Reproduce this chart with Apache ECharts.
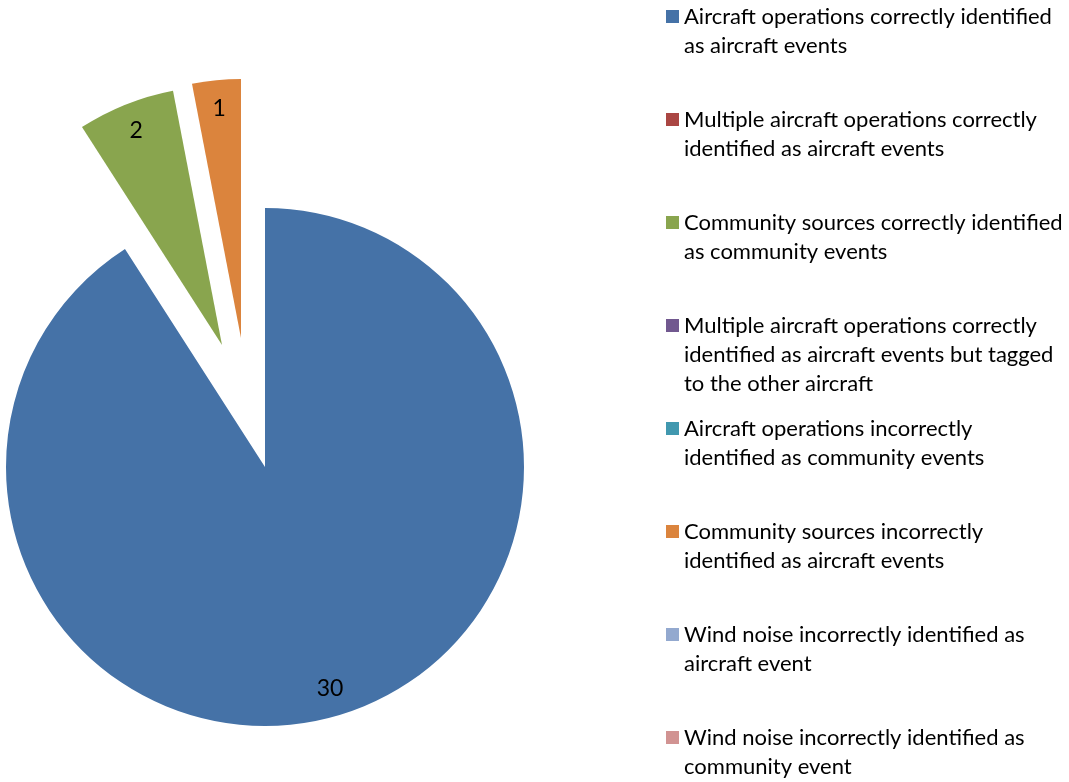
<!DOCTYPE html>
<html>
<head>
<meta charset="utf-8">
<script src="https://cdn.jsdelivr.net/npm/echarts@6/dist/echarts.min.js"></script>
<style>
  html, body { margin: 0; padding: 0; background: #fff; }
  #chart { width: 1069px; height: 782px; }
</style>
</head>
<body>
<div id="chart"></div>
<script>
// Event classification categories and counts
const categories = [
  'Aircraft operations correctly identified as aircraft events',
  'Multiple aircraft operations correctly identified as aircraft events',
  'Community sources correctly identified as community events',
  'Multiple aircraft operations correctly identified as aircraft events but tagged to the other aircraft',
  'Aircraft operations incorrectly identified as community events',
  'Community sources incorrectly identified as aircraft events',
  'Wind noise incorrectly identified as aircraft event',
  'Wind noise incorrectly identified as community event'
];
const counts = [30, 0, 2, 0, 0, 1, 0, 0];
// Legend text, wrapped
const legendText = [
  'Aircraft operations correctly identified\nas aircraft events',
  'Multiple aircraft operations correctly\nidentified as aircraft events',
  'Community sources correctly identified\nas community events',
  'Multiple aircraft operations correctly\nidentified as aircraft events but tagged\nto the other aircraft',
  'Aircraft operations incorrectly\nidentified as community events',
  'Community sources incorrectly\nidentified as aircraft events',
  'Wind noise incorrectly identified as\naircraft event',
  'Wind noise incorrectly identified as\ncommunity event'
];
const colors = ['#4572A7', '#AA4643', '#89A54E', '#71588F', '#4198AF', '#DB843D', '#93A9CF', '#D19392'];

const FONT = 'Lato';
const CENTER = [265, 467];
const R = 259;
const LABEL_RING = 0.76;  // labels sit in the outer ring [0.76R, R]
const LH = 29;            // legend line height
const LEGEND_TOP0 = 16.5; // first legend icon centre
const LEGEND_STEP = 103;

// Pulled-out slices: index -> [dx, dy] displacement of the slice apex
const explode = { 2: [-43, -122], 5: [-24, -129] };

// One group for the slices that stay in place, one per pulled-out slice
const groups = [{ offset: [0, 0], members: categories.map((_, i) => i).filter(i => !(i in explode)) }]
  .concat(Object.keys(explode).map(k => ({ offset: explode[k], members: [Number(k)] })));

function fillData(members) {
  return categories.map((name, i) => ({
    name: name,
    value: counts[i],
    itemStyle: { color: members.indexOf(i) >= 0 ? colors[i] : 'rgba(0,0,0,0)' }
  }));
}

function labelData(members) {
  return categories.map((name, i) => ({
    name: name,
    value: counts[i],
    itemStyle: { color: 'rgba(0,0,0,0)' },
    label: { show: members.indexOf(i) >= 0 && counts[i] > 0 }
  }));
}

const series = [];
groups.forEach(g => {
  const center = [CENTER[0] + g.offset[0], CENTER[1] + g.offset[1]];
  const common = {
    type: 'pie',
    center: center,
    startAngle: 90,
    clockwise: true,
    selectedMode: false,
    avoidLabelOverlap: false,
    stillShowZeroSum: false,
    emphasis: { disabled: true },
    labelLine: { show: false }
  };
  series.push(Object.assign({}, common, {
    radius: [0, R],
    label: { show: false },
    itemStyle: { borderWidth: 0 },
    data: fillData(g.members)
  }));
  series.push(Object.assign({}, common, {
    radius: [R * LABEL_RING, R],
    silent: true,
    itemStyle: { borderWidth: 0 },
    label: {
      show: false,
      position: 'inside',
      fontFamily: FONT,
      fontSize: 23,
      color: '#000',
      formatter: p => String(p.value)
    },
    data: labelData(g.members)
  }));
});

// One legend block per category so that blocks are evenly spaced;
// leading blank lines keep the icon level with the first text line.
const legends = categories.map((name, i) => {
  const n = legendText[i].split('\n').length;
  const boxH = (2 * n - 1) * LH;
  const pad = new Array(n - 1).fill(' ').join('\n');
  const text = (n > 1 ? pad + '\n' : '') + legendText[i];
  return {
    orient: 'vertical',
    left: 666,
    top: LEGEND_TOP0 + i * LEGEND_STEP - boxH / 2,
    padding: 0,
    itemWidth: 13,
    itemHeight: 13,
    itemGap: 0,
    icon: 'rect',
    selectedMode: false,
    data: [{ name: name, itemStyle: { color: colors[i] } }],
    formatter: () => text,
    textStyle: {
      fontFamily: FONT,
      fontSize: 22,
      color: '#000',
      lineHeight: LH
    }
  };
});

const chart = echarts.init(document.getElementById('chart'), null, { renderer: 'canvas' });
chart.setOption({
  animation: false,
  color: colors,
  legend: legends,
  series: series
});
</script>
</body>
</html>
